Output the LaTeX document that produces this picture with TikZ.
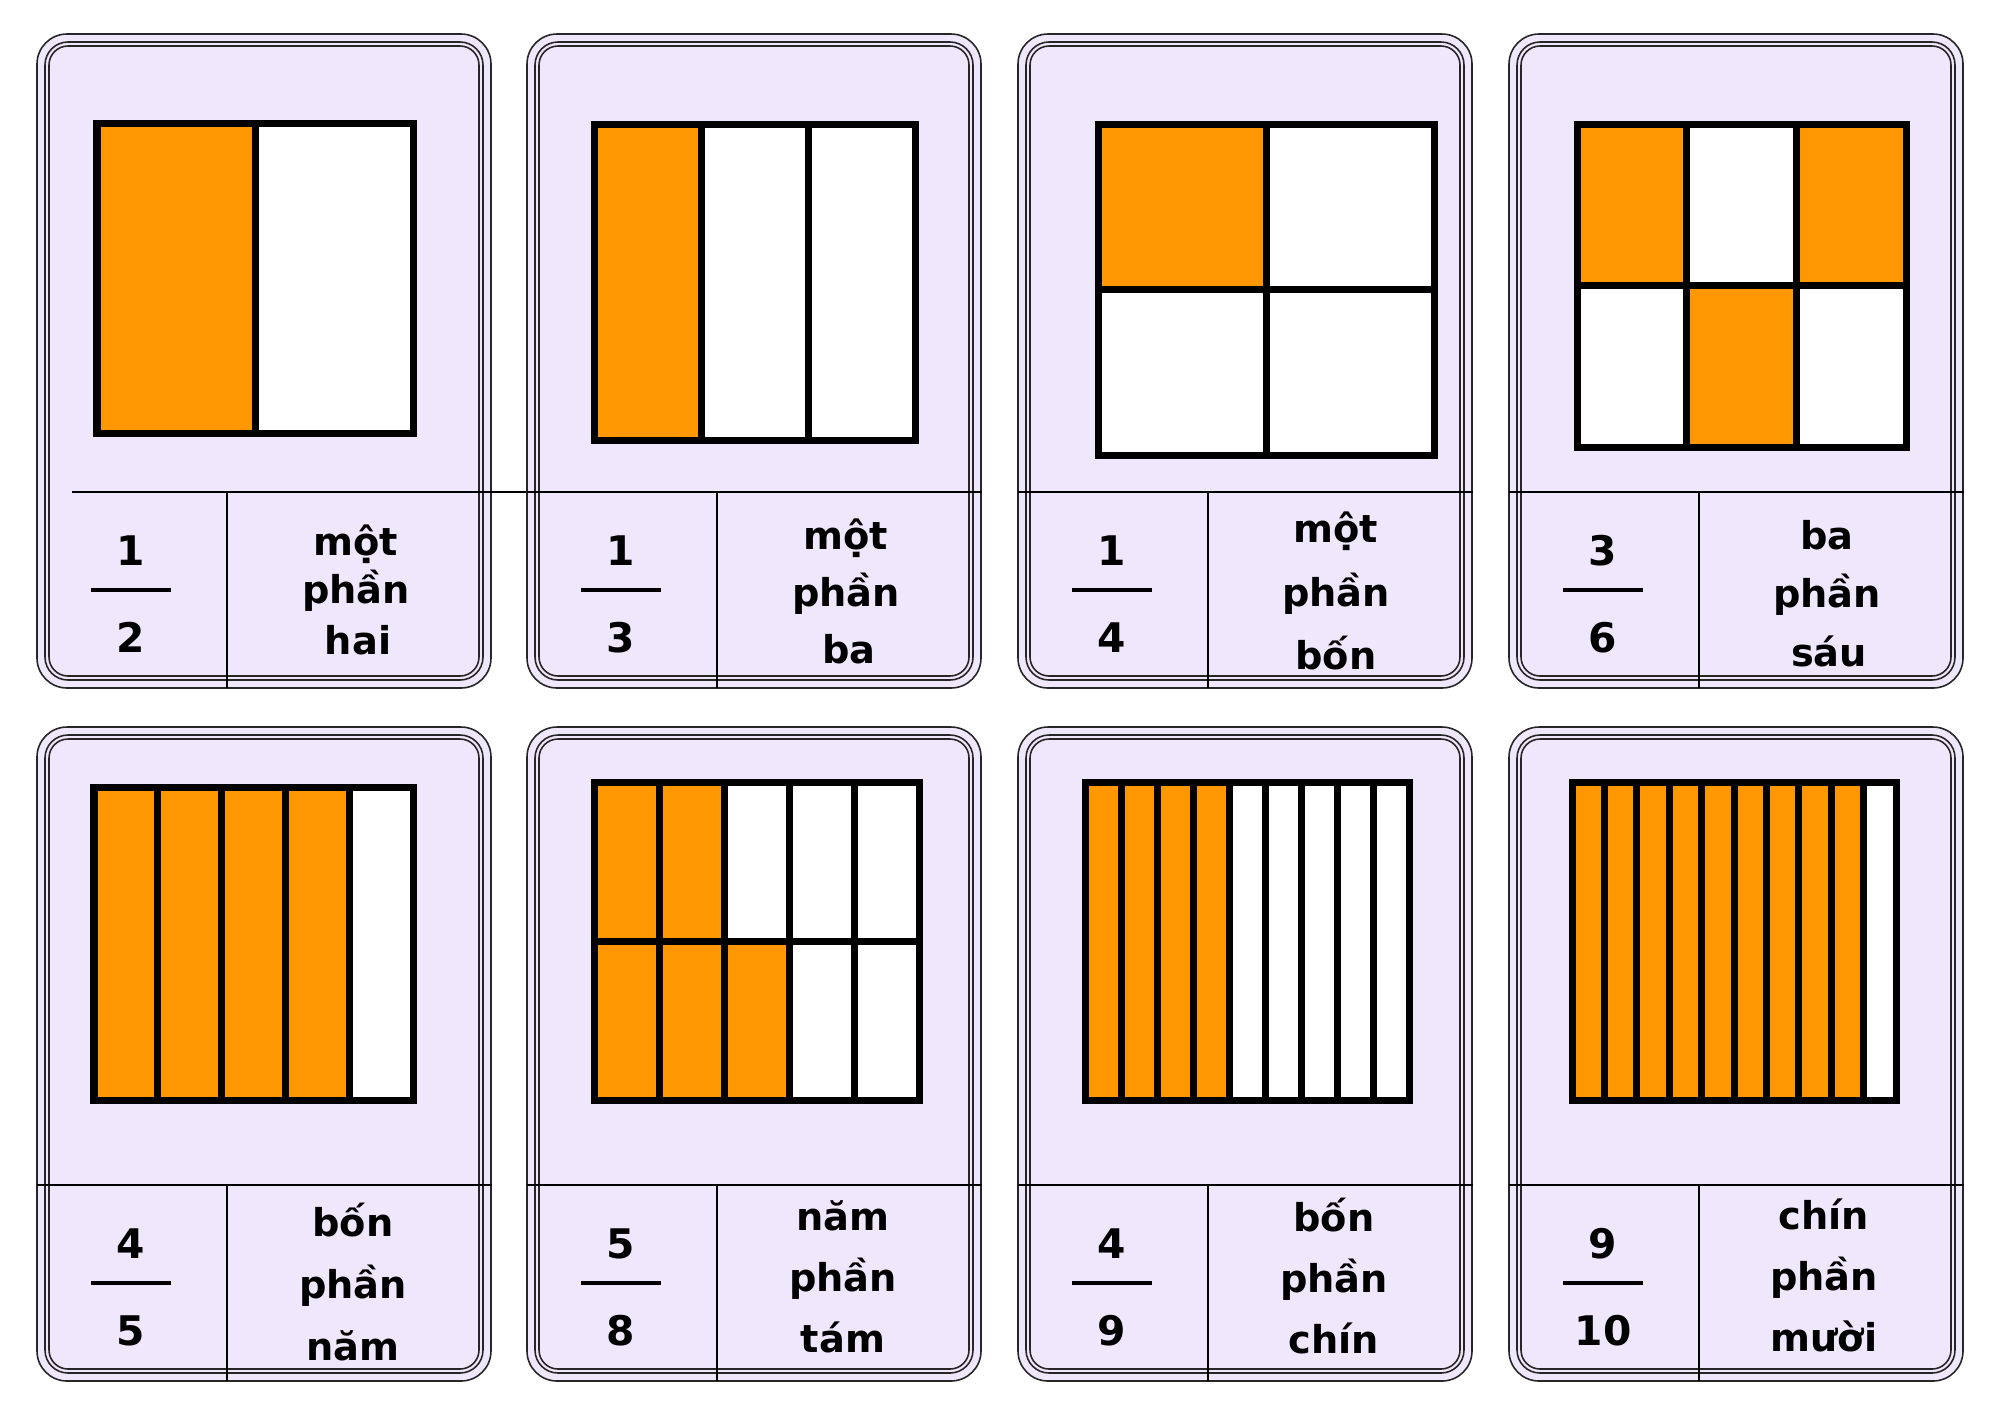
\documentclass[tikz,border=0pt]{standalone}
\usepackage{fontspec}
\setmainfont{DejaVu Sans}
\usetikzlibrary{positioning}

\definecolor{cardbg}{RGB}{239,232,253}
\definecolor{part}{RGB}{255,152,0}
\colorlet{rest}{white}

% card outline, divider lines; #1,#2 = span of the horizontal divider
\newcommand{\cardframe}[2]{%
  \fill[cardbg,rounded corners=0.3cm] (0,0) rectangle (454,654);
  \draw[rim,rounded corners=0.3cm] (0,0) rectangle (454,654);
  \draw[rim,rounded corners=0.23cm] (8,8) rectangle (446,646);
  \draw[rim,rounded corners=0.19cm] (12,12) rectangle (442,642);
  \draw[divline] (#1,458) -- (#2,458);
  \draw[divline] (190,458) -- (190,654);}

% grid of cells: x0,y0,x1,y1,cols,rows,colours (row by row)
\newcommand{\fgrid}[7]{%
  \foreach \c [count=\k from 0] in {#7} {
    \pgfmathtruncatemacro\ci{mod(\k,#5)}
    \pgfmathtruncatemacro\ri{div(\k,#5)}
    \pgfmathsetmacro\xa{#1+\ci*(#3-#1)/#5}
    \pgfmathsetmacro\xb{#1+(\ci+1)*(#3-#1)/#5}
    \pgfmathsetmacro\ya{#2+\ri*(#4-#2)/#6}
    \pgfmathsetmacro\yb{#2+(\ri+1)*(#4-#2)/#6}
    \draw[cell,fill=\c] (\xa,\ya) rectangle (\xb,\yb);
  }}

\begin{document}
\begin{tikzpicture}[x=0.01cm,y=-0.01cm]
  \tikzstyle{rim}=[draw=black!85,line width=0.45pt]
  \tikzstyle{divline}=[draw=black,line width=0.6pt]
  \tikzstyle{cell}=[draw=black,line width=0.07cm]
  \tikzstyle{fracbar}=[draw=black,line width=0.035cm]
  \tikzstyle{digit}=[font=\fontsize{11.6}{14}\selectfont\bfseries,anchor=base,inner sep=0pt]
  \tikzstyle{word}=[font=\fontsize{10.9}{13}\selectfont\bfseries,anchor=base,inner sep=0pt]
  \useasboundingbox (0,0) rectangle (2000,1414);

  % 1/2
  \begin{scope}[shift={(37,34)}]
    \cardframe{35}{490}
    \fgrid{60}{89}{376}{399}{2}{1}{part,rest}
    \node[digit] (num1) at (94,531) {1};
    \node[digit] (den1) at (94,618) {2};
    \draw[fracbar] (54,556) -- (134,556);
    \node[word] (top1) at (319,521) {một};
    \node[word] (mid1) at (319,569) {phần};
    \node[word] (bot1) at (321,620) {hai};
  \end{scope}

  % 1/3
  \begin{scope}[shift={(527,34)}]
    \cardframe{0}{455}
    \fgrid{67}{90}{388}{406}{3}{1}{part,rest,rest}
    \node[digit] (num2) at (94,531) {1};
    \node[digit] (den2) at (94,618) {3};
    \draw[fracbar] (54,556) -- (134,556);
    \node[word] (top2) at (319,515) {một};
    \node[word] (mid2) at (319,572) {phần};
    \node[word] (bot2) at (322,629) {ba};
  \end{scope}

  % 1/4
  \begin{scope}[shift={(1018,34)}]
    \cardframe{0}{455}
    \fgrid{80}{90}{416}{421}{2}{2}{part,rest,rest,rest}
    \node[digit] (num3) at (94,531) {1};
    \node[digit] (den3) at (94,618) {4};
    \draw[fracbar] (54,556) -- (134,556);
    \node[word] (top3) at (318,508) {một};
    \node[word] (mid3) at (318,572) {phần};
    \node[word] (bot3) at (318,635) {bốn};
  \end{scope}

  % 3/6
  \begin{scope}[shift={(1509,34)}]
    \cardframe{0}{455}
    \fgrid{68}{90}{397}{413}{3}{2}{part,rest,part,rest,part,rest}
    \node[digit] (num4) at (94,531) {3};
    \node[digit] (den4) at (94,618) {6};
    \draw[fracbar] (54,556) -- (134,556);
    \node[word] (top4) at (318,515) {ba};
    \node[word] (mid4) at (318,573) {phần};
    \node[word] (bot4) at (320,632) {sáu};
  \end{scope}

  % 4/5
  \begin{scope}[shift={(37,727)}]
    \cardframe{0}{455}
    \fgrid{57}{60}{376}{373}{5}{1}{part,part,part,part,rest}
    \node[digit] (num5) at (94,531) {4};
    \node[digit] (den5) at (94,618) {5};
    \draw[fracbar] (54,556) -- (134,556);
    \node[word] (top5) at (316,509) {bốn};
    \node[word] (mid5) at (316,571) {phần};
    \node[word] (bot5) at (316,633) {năm};
  \end{scope}

  % 5/8
  \begin{scope}[shift={(527,727)}]
    \cardframe{0}{455}
    \fgrid{67}{55}{392}{373}{5}{2}{part,part,rest,rest,rest,part,part,part,rest,rest}
    \node[digit] (num6) at (94,531) {5};
    \node[digit] (den6) at (94,618) {8};
    \draw[fracbar] (54,556) -- (134,556);
    \node[word] (top6) at (316,503) {năm};
    \node[word] (mid6) at (316,564) {phần};
    \node[word] (bot6) at (316,625) {tám};
  \end{scope}

  % 4/9
  \begin{scope}[shift={(1018,727)}]
    \cardframe{0}{455}
    \fgrid{67}{55}{391}{373}{9}{1}{part,part,part,part,rest,rest,rest,rest,rest}
    \node[digit] (num7) at (94,531) {4};
    \node[digit] (den7) at (94,618) {9};
    \draw[fracbar] (54,556) -- (134,556);
    \node[word] (top7) at (316,504) {bốn};
    \node[word] (mid7) at (316,565) {phần};
    \node[word] (bot7) at (316,626) {chín};
  \end{scope}

  % 9/10
  \begin{scope}[shift={(1509,727)}]
    \cardframe{0}{455}
    \fgrid{63}{55}{387}{373}{10}{1}{part,part,part,part,part,part,part,part,part,rest}
    \node[digit] (num8) at (94,531) {9};
    \node[digit] (den8) at (94,618) {10};
    \draw[fracbar] (54,556) -- (134,556);
    \node[word] (top8) at (315,502) {chín};
    \node[word] (mid8) at (315,563) {phần};
    \node[word] (bot8) at (315,624) {mười};
  \end{scope}
\end{tikzpicture}
\end{document}
